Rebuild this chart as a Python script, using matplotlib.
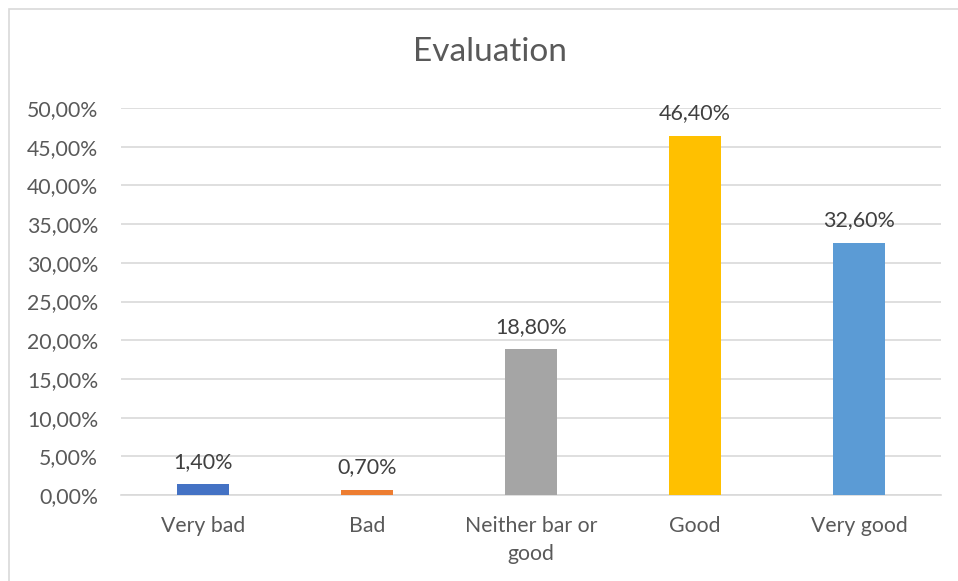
import matplotlib
matplotlib.use("Agg")
import matplotlib.pyplot as plt
from matplotlib.patches import Rectangle

categories = ["Very bad", "Bad", "Neither bar or\ngood", "Good", "Very good"]
values = [1.40, 0.70, 18.80, 46.40, 32.60]
colors = ["#4472C4", "#ED7D31", "#A5A5A5", "#FFC000", "#5B9BD5"]
yticks = [0, 5, 10, 15, 20, 25, 30, 35, 40, 45, 50]
title = "Evaluation"

plt.rcParams["font.family"] = ["Lato", "DejaVu Sans"]
text_color = "#595959"
grid_color = "#D9D9D9"

W, H = 958, 581
fig = plt.figure(figsize=(W / 100, H / 100), dpi=100)

# chart frame
fig.patches.append(Rectangle((9 / W, -0.01), 1.0, 1 - 9 / H + 0.01, transform=fig.transFigure,
                             fill=False, edgecolor="#D9D9D9", linewidth=1.2))

left, right, bottom, top = 121 / W, 941 / W, 1 - 495 / H, 1 - 108 / H
ax = fig.add_axes([left, bottom, right - left, top - bottom])

x = range(len(categories))
ax.bar(x, values, width=0.315, color=colors, zorder=3)
ax.set_xlim(-0.5, len(categories) - 0.5)
ax.set_ylim(0, 50)
ax.set_yticks(yticks)
ax.set_yticklabels([f"{v:.2f}%".replace(".", ",") for v in yticks])
ax.set_xticks(list(x))
ax.set_xticklabels(categories, linespacing=1.5)

for s in ["top", "right", "left"]:
    ax.spines[s].set_visible(False)
ax.spines["bottom"].set_color(grid_color)
ax.spines["bottom"].set_linewidth(1.2)
ax.yaxis.grid(True, color=grid_color, linewidth=1.2, zorder=0)
ax.set_axisbelow(True)
ax.tick_params(axis="both", length=0, labelsize=15.3, colors=text_color)
ax.tick_params(axis="y", pad=16.5)
ax.tick_params(axis="x", pad=15)

for xi, v in zip(x, values):
    ax.annotate(f"{v:.2f}%".replace(".", ","), (xi, v), xytext=(0, 9),
                textcoords="offset points", ha="center", va="bottom",
                fontsize=15.5, color="#404040")

fig.text(490 / W, 1 - 52 / H, title, ha="center", va="center",
         fontsize=24, color=text_color)

fig.savefig("out.png", dpi=100)
